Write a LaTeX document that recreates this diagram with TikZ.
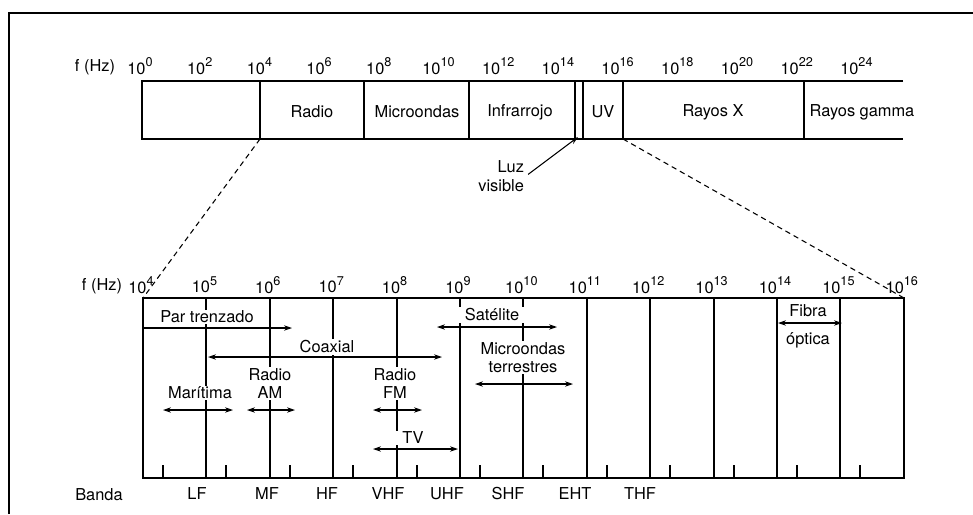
\documentclass[tikz,border=0pt]{standalone}
\usepackage{fontspec}
\setmainfont{TeX Gyre Heros}
\usetikzlibrary{arrows.meta}

\newcommand\pot[1]{10\raisebox{0.45em}{\fontsize{9.5}{10}\selectfont #1}}

\tikzset{
  lbl/.style={font=\fontsize{12.3}{14}\selectfont, inner sep=1pt},
  wlbl/.style={lbl, fill=white, inner xsep=5pt, align=center},
  band/.style={{Stealth[length=6pt,width=4pt]}-{Stealth[length=6pt,width=4pt]}, line width=0.8pt},
  tip/.style={-{Stealth[length=6pt,width=4pt]}, line width=0.8pt},
}

\begin{document}
\begin{tikzpicture}[x=0.75pt,y=-0.75pt,line width=1.1pt]

    \useasboundingbox (0,0) rectangle (973,514);

    \def\topA{81}     % upper bar, top edge
    \def\topB{139}    % upper bar, bottom edge
    \def\lowA{298}    % lower bar, top edge
    \def\lowB{478}    % lower bar, bottom edge
    \def\dec{63.4}    % one decade in the lower bar

    % frame
    \draw[line width=1.3pt] (9,514) -- (9,13) -- (973,13);

    % zoom lines
    \draw[dashed, line width=0.8pt, dash pattern=on 4pt off 3pt]
        (260,\topB) -- (143,\lowA);
    \draw[dashed, line width=0.8pt, dash pattern=on 4pt off 3pt]
        (623,\topB) -- (904,\lowA);

    % upper bar
    \draw (903,\topA) -- (142,\topA) -- (142,\topB) -- (903,\topB);
    \foreach \x in {260,364,469,575,583,623,804}
        \draw (\x,\topA) -- (\x,\topB);

    \node[lbl] (fhzA) at (95,67) {f (Hz)};
    \foreach \k in {0,2,...,24}
        \node[lbl] (up\k) at ({140+29.85*\k},66) {\pot{\k}};

    \node[lbl] (radio) at (312,112) {Radio};
    \node[lbl] (micro) at (417,112) {Microondas};
    \node[lbl] (infra) at (520,112) {Infrarrojo};
    \node[lbl] (uv)    at (603,112) {UV};
    \node[lbl] (rayx)  at (713,112) {Rayos X};
    \node[lbl] (gamma) at (862,112) {Rayos gamma};

    % visible light
    \node[lbl, align=right, anchor=east] (luz) at (526,176) {Luz\\visible};
    \coordinate (vis) at (578,137);
    \draw[tip, shorten <=2pt] (luz.east) -- (vis);

    % lower bar
    \draw (143,\lowA) rectangle (904,\lowB);
    \foreach \k in {1,...,11}
        \draw ({round(143+\dec*\k)},\lowA) -- ({round(143+\dec*\k)},\lowB);
    \foreach \k in {0,...,11}
        \draw ({round(163+\dec*\k)},\lowB) -- ({round(163+\dec*\k)},\lowB-13);

    \node[lbl] (fhzB) at (102,286) {f (Hz)};
    \foreach \k in {4,...,16}
        \node[lbl] (low\k) at ({141+\dec*(\k-4)},285) {\pot{\k}};

    % bands
    \node[lbl] (banda) at (99,495) {Banda};
    \foreach \x/\b in {197/LF,267/MF,327/HF,388/VHF,447/UHF,508/SHF,575/EHT,640/THF}
        \node[lbl] (b\b) at (\x,494) {\b};

    % ranges
    \path (143,328) coordinate (parL)   (292,328) coordinate (parR)
          (208,357) coordinate (coaxL)  (442,357) coordinate (coaxR)
          (437,327) coordinate (satL)   (557,327) coordinate (satR)
          (475,384) coordinate (terrL)  (573,384) coordinate (terrR)
          (163,410) coordinate (marL)   (233,410) coordinate (marR)
          (247,410) coordinate (amL)    (295,410) coordinate (amR)
          (373,410) coordinate (fmL)    (422,410) coordinate (fmR)
          (373,449) coordinate (tvL)    (458,449) coordinate (tvR)
          (778,323) coordinate (fibL)   (842,323) coordinate (fibR);

    \draw[tip]  (parL) -- (parR);
    \draw[band] (coaxL) -- (coaxR);
    \draw[band] (satL) -- (satR);
    \draw[band] (terrL) -- (terrR);
    \draw[band] (marL) -- (marR);
    \draw[band] (amL) -- (amR);
    \draw[band] (fmL) -- (fmR);
    \draw[band] (tvL) -- (tvR);
    \draw[band] (fibL) -- (fibR);

    \node[wlbl] (par)   at (207,317) {Par trenzado};
    \node[wlbl] (coax)  at (327,347) {Coaxial};
    \node[wlbl] (sat)   at (492,315) {Satélite};
    \node[wlbl] (terr)  at (523,357.5) {Microondas\\terrestres};
    \node[wlbl] (mar)   at (200,393) {Marítima};
    \node[wlbl] (am)    at (270,383.5) {Radio\\AM};
    \node[wlbl] (fm)    at (395,383.5) {Radio\\FM};
    \node[wlbl] (tv)    at (413,438) {TV};
    \node[lbl]  (fibra) at (808,311) {Fibra};
    \node[lbl]  (optic) at (808,340) {óptica};

\end{tikzpicture}
\end{document}
